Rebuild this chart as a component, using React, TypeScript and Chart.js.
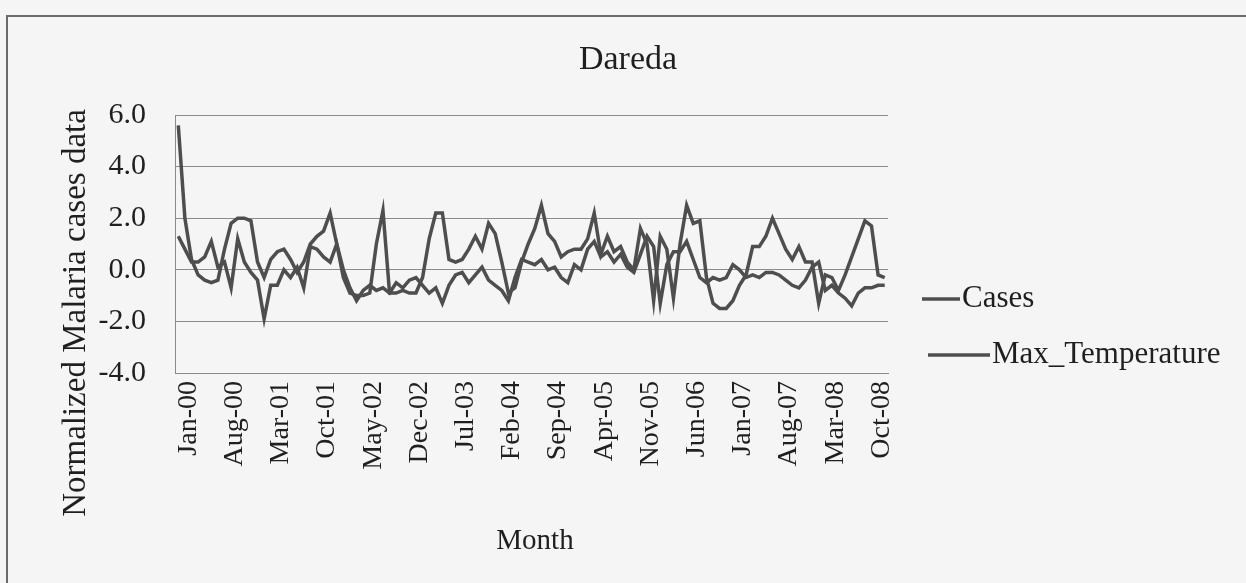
import React, { useEffect, useRef } from "react";
import { Chart, registerables } from "chart.js";

Chart.register(...registerables);

const MONTHS = ["Jan", "Feb", "Mar", "Apr", "May", "Jun", "Jul", "Aug", "Sep", "Oct", "Nov", "Dec"];
const YEARS = ["00", "01", "02", "03", "04", "05", "06", "07", "08"];
const categories: string[] = YEARS.flatMap((y) => MONTHS.map((m) => `${m}-${y}`));

const seriesNames = ["Cases", "Max_Temperature"];

const cases = [
  5.6, 2.0, 0.4, -0.2, -0.4, -0.5, -0.4, 0.8, 1.8, 2.0, 2.0, 1.9,
  0.3, -0.3, 0.4, 0.7, 0.8, 0.4, -0.1, 0.3, 1.0, 1.3, 1.5, 2.2,
  1.0, -0.3, -0.9, -1.0, -1.0, -0.9, 1.0, 2.3, -0.9, -0.9, -0.8, -0.9,
  -0.9, -0.3, 1.2, 2.2, 2.2, 0.4, 0.3, 0.4, 0.8, 1.3, 0.8, 1.8,
  1.4, 0.3, -0.9, -0.7, 0.3, 1.0, 1.6, 2.5, 1.4, 1.1, 0.5, 0.7,
  0.8, 0.8, 1.2, 2.2, 0.6, 1.3, 0.7, 0.9, 0.3, 0.0, 1.6, 1.0,
  -1.2, 1.3, 0.8, -1.1, 1.0, 2.5, 1.8, 1.9, -0.3, -1.3, -1.5, -1.5,
  -1.2, -0.6, -0.2, 0.9, 0.9, 1.3, 2.0, 1.4, 0.8, 0.4, 0.9, 0.3,
  0.3, -1.3, -0.2, -0.3, -0.8, -0.2, 0.5, 1.2, 1.9, 1.7, -0.2, -0.3,
];

const maxTemperature = [
  1.3, 0.8, 0.3, 0.3, 0.5, 1.1, 0.1, 0.3, -0.7, 1.2, 0.3, -0.1,
  -0.4, -1.9, -0.6, -0.6, 0.0, -0.3, 0.1, -0.7, 0.9, 0.8, 0.5, 0.3,
  1.0, 0.0, -0.7, -1.2, -0.8, -0.6, -0.8, -0.7, -0.9, -0.5, -0.7, -0.4,
  -0.3, -0.6, -0.9, -0.7, -1.3, -0.6, -0.2, -0.1, -0.5, -0.2, 0.1, -0.4,
  -0.6, -0.8, -1.2, -0.3, 0.4, 0.3, 0.2, 0.4, 0.0, 0.1, -0.3, -0.5,
  0.2, 0.0, 0.8, 1.1, 0.5, 0.7, 0.3, 0.6, 0.1, -0.1, 0.6, 1.3,
  0.9, -1.3, 0.2, 0.7, 0.7, 1.1, 0.4, -0.3, -0.5, -0.3, -0.4, -0.3,
  0.2, 0.0, -0.3, -0.2, -0.3, -0.1, -0.1, -0.2, -0.4, -0.6, -0.7, -0.4,
  0.1, 0.3, -0.8, -0.6, -0.9, -1.1, -1.4, -0.9, -0.7, -0.7, -0.6, -0.6,
];

const yMin = -4;
const yMax = 6;
const yStep = 2;
const labelEvery = 7;

const chartTitle = "Dareda";
const yTitle = "Normalized Malaria cases data";
const xTitle = "Month";

const FONT = "'Liberation Serif', 'Times New Roman', serif";
const TEXT = "#1f1f1f";
const LINE = "#4e4e4e";

const decorPlugin = {
  id: "decor",
  beforeDraw(chart: any) {
    const { ctx, width, height } = chart;
    ctx.save();
    ctx.fillStyle = "#f5f5f5";
    ctx.fillRect(0, 0, width, height);
    ctx.strokeStyle = "#6a6a6a";
    ctx.lineWidth = 2;
    ctx.beginPath();
    ctx.moveTo(width, 16);
    ctx.lineTo(7, 16);
    ctx.lineTo(7, height);
    ctx.stroke();
    ctx.restore();
  },
  afterDraw(chart: any) {
    const { ctx } = chart;
    ctx.save();
    ctx.fillStyle = TEXT;
    ctx.textAlign = "center";
    ctx.textBaseline = "middle";
    ctx.font = `34px ${FONT}`;
    ctx.fillText(chartTitle, 628, 60);
    ctx.font = `29px ${FONT}`;
    ctx.fillText(xTitle, 535, 541);
    ctx.font = `33px ${FONT}`;
    ctx.translate(76, 313);
    ctx.rotate(-Math.PI / 2);
    ctx.fillText(yTitle, 0, 0);
    ctx.restore();

    ctx.save();
    ctx.font = `31px ${FONT}`;
    ctx.textAlign = "left";
    ctx.textBaseline = "middle";
    const items = [
      { y: 299, x0: 922, x1: 960 },
      { y: 355, x0: 928, x1: 990 },
    ];
    chart.data.datasets.forEach((ds: any, i: number) => {
      const it = items[i];
      ctx.strokeStyle = ds.borderColor;
      ctx.lineWidth = 3.5;
      ctx.beginPath();
      ctx.moveTo(it.x0, it.y);
      ctx.lineTo(it.x1, it.y);
      ctx.stroke();
      ctx.fillStyle = TEXT;
      ctx.fillText(ds.label, it.x1 + 2, it.y);
    });
    ctx.restore();
  },
};

export default function App() {
  const ref = useRef<HTMLCanvasElement | null>(null);

  useEffect(() => {
    if (!ref.current) return;
    const chart = new Chart(ref.current, {
      type: "line",
      data: {
        labels: categories,
        datasets: [
          {
            label: seriesNames[0],
            data: cases,
            borderColor: LINE,
            borderWidth: 3.5,
            pointRadius: 0,
            tension: 0,
          },
          {
            label: seriesNames[1],
            data: maxTemperature,
            borderColor: LINE,
            borderWidth: 3.5,
            pointRadius: 0,
            tension: 0,
          },
        ],
      },
      options: {
        animation: false,
        responsive: false,
        maintainAspectRatio: false,
        layout: { padding: { left: 0, top: 115, right: 1246 - 888, bottom: 0 } },
        plugins: {
          legend: { display: false },
          title: { display: false },
          tooltip: { enabled: false },
        },
        scales: {
          x: {
            type: "category",
            offset: true,
            grid: { display: false, drawTicks: false },
            border: { display: true, color: "#8a8a8a", width: 1 },
            ticks: {
              autoSkip: false,
              minRotation: 90,
              maxRotation: 90,
              padding: 8,
              labelOffset: 10,
              color: TEXT,
              font: { family: FONT, size: 28 },
              callback: (_v: any, i: number) => (i % labelEvery === 0 ? categories[i] : null),
            },
            afterFit: (scale: any) => {
              scale.height = 583 - 373;
            },
          },
          y: {
            min: yMin,
            max: yMax,
            grid: { color: "#8c8c8c", lineWidth: 1, drawTicks: false },
            border: { display: true, color: "#8a8a8a", width: 1 },
            ticks: {
              stepSize: yStep,
              padding: 29,
              color: TEXT,
              font: { family: FONT, size: 30 },
              callback: (v: any) => Number(v).toFixed(1),
            },
            afterFit: (scale: any) => {
              scale.width = 175;
            },
          },
        },
      },
      plugins: [decorPlugin],
    });
    return () => chart.destroy();
  }, []);

  return (
    <div style={{ position: "absolute", left: 0, top: 0, width: 1246, height: 583 }}>
      <canvas ref={ref} width={1246} height={583} style={{ width: 1246, height: 583, display: "block" }} />
    </div>
  );
}
